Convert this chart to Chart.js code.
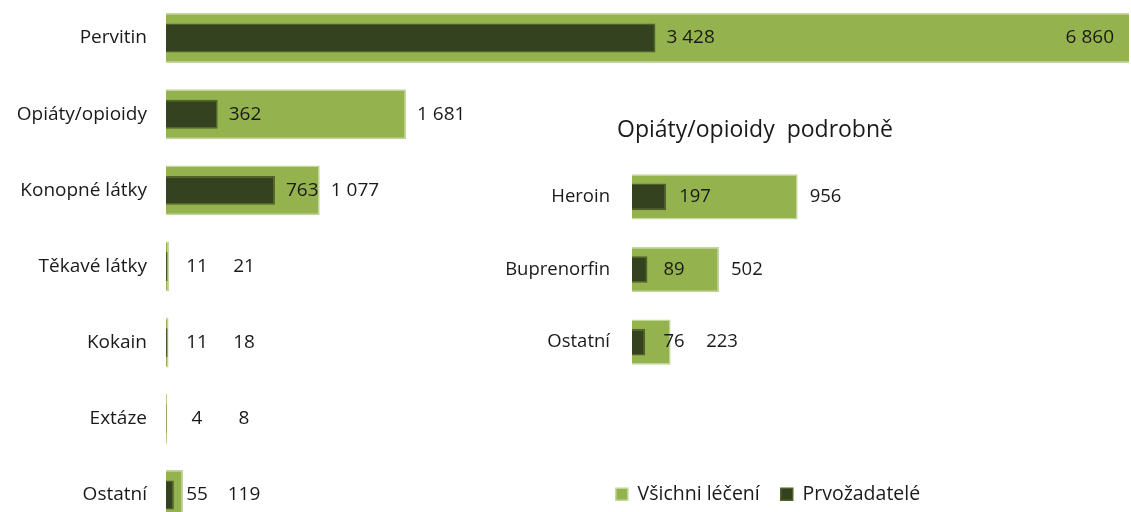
<!DOCTYPE html>
<html><head><meta charset="utf-8">
<script src="https://cdn.jsdelivr.net/npm/chart.js@4.4.1/dist/chart.umd.min.js"></script>
<style>
html,body{margin:0;padding:0;background:#fff;overflow:hidden;width:1131px;height:512px;position:relative;}
#c1{position:absolute;left:0;top:0;}
#c2{position:absolute;left:450px;top:107px;}
</style></head><body>
<canvas id="c1" width="1131" height="533" style="width:1131px;height:533px"></canvas>
<canvas id="c2" width="636" height="407" style="width:636px;height:407px"></canvas>
<script>
const categories = ['Pervitin','Opiáty/opioidy','Konopné látky','Těkavé látky','Kokain','Extáze','Ostatní'];
const allTreated = [6860,1681,1077,21,18,8,119];
const firstTime = [3428,362,763,11,11,4,55];
const detailCategories = ['Heroin','Buprenorfin','Ostatní'];
const detailAllTreated = [956,502,223];
const detailFirstTime = [197,89,76];
const seriesNames = ['Všichni léčení','Prvožadatelé'];
const detailTitle = 'Opiáty/opioidy  podrobně';

const FONT = '"Open Sans", "Noto Sans", sans-serif';
const LIGHT = '#94b24d', LIGHT_BORDER = '#c3d69b';
const DARK = '#344220', DARK_BORDER = '#4f6228';
const TEXT = '#1a1a1a';

function fmt(v){ return String(v).replace(/\B(?=(\d{3})+(?!\d))/g,' '); }

function labelPlugin(cfg){
  return {id:'barLabels', afterDatasetsDraw(chart){
    const ctx = chart.ctx, area = chart.chartArea, xs = chart.scales.x;
    const mDark = chart.getDatasetMeta(0), mLight = chart.getDatasetMeta(1);
    const x0 = xs.getPixelForValue(0);
    ctx.save();
    ctx.font = cfg.font; ctx.fillStyle = TEXT; ctx.textBaseline = 'middle';
    chart.data.labels.forEach((_, i) => {
      const dv = chart.data.datasets[0].data[i], lv = chart.data.datasets[1].data[i];
      const ds = fmt(dv), ls = fmt(lv);
      const dw = ctx.measureText(ds).width, lw = ctx.measureText(ls).width;
      const y = mDark.data[i].y;
      const dEnd = mDark.data[i].x, lEnd = mLight.data[i].x;
      const dc = Math.max(dEnd + cfg.gapDark + dw/2, x0 + cfg.minDark);
      ctx.textAlign = 'center';
      ctx.fillText(ds, dc, y);
      if (lv > xs.max) {
        ctx.textAlign = 'right';
        ctx.fillText(ls, area.right - cfg.insetRight, y);
      } else {
        const lc = Math.max(lEnd + cfg.gapLight + lw/2, dc + cfg.minSep);
        ctx.fillText(ls, lc, y);
      }
    });
    ctx.restore();
  }};
}

function makeDatasets(light, dark, lp, dp, clip){
  return [
    {label: seriesNames[1], data: dark, backgroundColor: DARK, borderColor: DARK_BORDER, borderWidth: 1.5,
     barPercentage: dp, categoryPercentage: 1, grouped: false, clip: clip},
    {label: seriesNames[0], data: light, backgroundColor: LIGHT, borderColor: LIGHT_BORDER, borderWidth: 1.5,
     barPercentage: lp, categoryPercentage: 1, grouped: false, clip: clip}
  ];
}

function fitY(width){
  return s => { s.width = width; s.paddingTop = 0; s.paddingBottom = 0; };
}

new Chart(document.getElementById('c1'), {
  type: 'bar',
  data: {labels: categories, datasets: makeDatasets(allTreated, firstTime, 0.656, 0.38, 0)},
  options: {
    indexAxis: 'y', responsive: false, animation: false, devicePixelRatio: 1,
    layout: {padding: {left: 0, right: 2, top: 0, bottom: 0}},
    plugins: {legend: {display: false}, tooltip: {enabled: false}, title: {display: false}},
    scales: {
      x: {display: false, min: 0, max: 6745},
      y: {grid: {display: false, drawTicks: false}, border: {display: false},
          ticks: {padding: 19, color: TEXT, font: {family: FONT, size: 19}},
          afterFit: fitY(166)}
    }
  },
  plugins: [labelPlugin({font: '19px ' + FONT, gapDark: 11, gapLight: 11, minDark: 31, minSep: 47, insetRight: 15})]
});

const shiftTitle = {id: 'shiftTitle', afterLayout(chart){
  const t = chart.titleBlock; if (t) { t.left -= 13; t.right -= 13; }
}};

new Chart(document.getElementById('c2'), {
  type: 'bar',
  data: {labels: detailCategories, datasets: makeDatasets(detailAllTreated, detailFirstTime, 0.624, 0.366, false)},
  options: {
    indexAxis: 'y', responsive: false, animation: false, devicePixelRatio: 1,
    layout: {padding: 0},
    plugins: {
      tooltip: {enabled: false},
      title: {display: true, text: detailTitle, color: TEXT, font: {family: FONT, size: 23, weight: 'normal'},
              padding: {top: 10, bottom: 16}},
      legend: {display: true, position: 'bottom', reverse: true,
               labels: {boxWidth: 12, boxHeight: 12, padding: 21, color: TEXT, font: {family: FONT, size: 19.5}}}
    },
    scales: {
      x: {display: true, min: 0, max: 2620, grid: {display: false, drawTicks: false}, border: {display: false},
          ticks: {display: false}, afterFit: s => { s.height = 85; }},
      y: {grid: {display: false, drawTicks: false}, border: {display: false},
          ticks: {padding: 22, color: TEXT, font: {family: FONT, size: 18.5}},
          afterFit: fitY(182)}
    }
  },
  plugins: [shiftTitle, labelPlugin({font: '18.5px ' + FONT, gapDark: 13, gapLight: 12, minDark: 42, minSep: 48, insetRight: 15})]
});
</script>
</body></html>
